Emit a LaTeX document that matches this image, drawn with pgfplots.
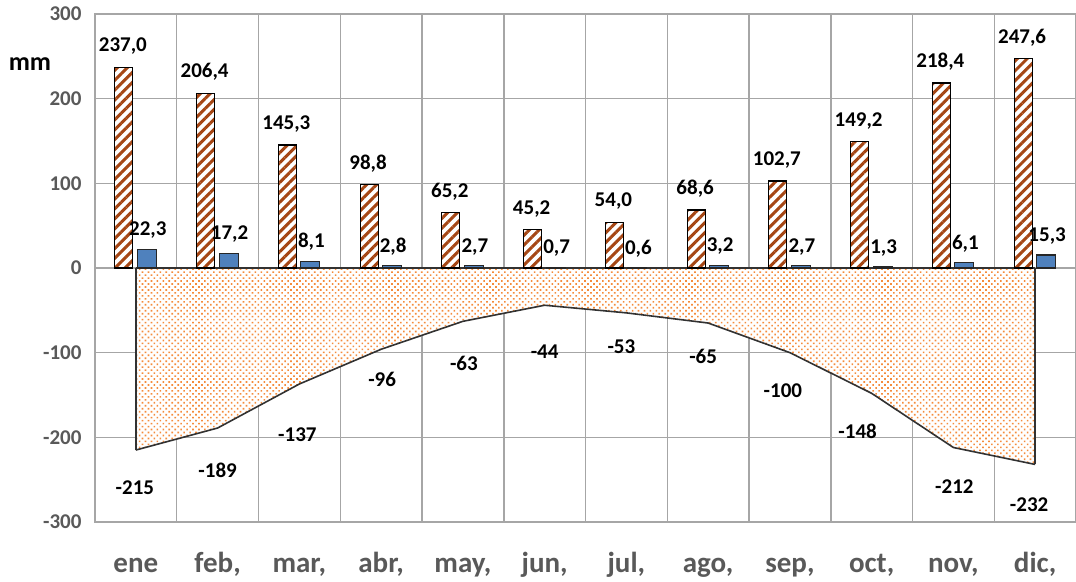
\documentclass[border=0pt]{standalone}
\usepackage{pgfplots}
\pgfplotsset{compat=1.18}
\usepackage{pgfplotstable}
\usepackage{fontspec}
\setmainfont{Carlito}
\usetikzlibrary{patterns.meta}

\definecolor{hatchbrown}{RGB}{165,70,20}
\definecolor{barblue}{RGB}{79,129,189}
\definecolor{dotorange}{RGB}{245,140,60}
\definecolor{gridgray}{RGB}{166,166,166}
\definecolor{labelgray}{RGB}{89,89,89}
\definecolor{linegray}{RGB}{50,50,50}

% m = month index, p = hatched series, e = blue series
\pgfplotstableread{
m  p      e
0  237.0  22.3
1  206.4  17.2
2  145.3  8.1
3  98.8   2.8
4  65.2   2.7
5  45.2   0.7
6  54.0   0.6
7  68.6   3.2
8  102.7  2.7
9  149.2  1.3
10 218.4  6.1
11 247.6  15.3
}\lluvia

% d = negative series, dx/dy = label offsets (pt)
\pgfplotstableread{
m   d     dx   dy
0   -215  -1   -38
1   -189   0   -42
2   -137  -2   -51
3   -96    1   -30
4   -63    1   -42
5   -44    0   -46
6   -53   -5   -34
7   -65   -5   -33
8   -100  -7   -38
9   -148  -14  -38
10  -212   1   -39
11  -232  -6   -40
}\deficit

\begin{document}
\begin{tikzpicture}
\useasboundingbox (-95pt,-59pt) rectangle (981pt,522pt);
\begin{axis}[
    at={(0pt,0pt)}, anchor=south west,
    scale only axis,
    width=981pt, height=508pt,
    xmin=-0.5, xmax=11.5,
    ymin=-300, ymax=300,
    clip=false,
    xtick={0,...,11},
    xticklabels={ene,{feb,},{mar,},{abr,},{may,},{jun,},{jul,},{ago,},{sep,},{oct,},{nov,},{dic,}},
    minor xtick={0.5,1.5,...,10.5},
    ytick={-300,-200,...,300},
    xminorgrids=true, ymajorgrids=true,
    major tick length=0pt, minor tick length=0pt,
    grid style={gridgray, line width=1.5pt},
    minor grid style={gridgray, line width=1.5pt},
    axis line style={gridgray, line width=1.5pt},
    /pgf/number format/assume math mode=true,
    xticklabel style={font=\fontsize{29}{29}\selectfont\bfseries, text=labelgray, anchor=base, yshift=-50pt},
    yticklabel style={font=\fontsize{21}{21}\selectfont\bfseries, text=labelgray, xshift=-10pt},
    ylabel={mm},
    ylabel style={at={(axis description cs:-0.0663,0.9016)}, anchor=center, rotate=-90,
        font=\fontsize{26}{26}\selectfont\bfseries},
    nodes near coords style={font=\fontsize{21}{21}\selectfont\bfseries, text=black},
]

% area below zero: fill
\addplot[draw=none, fill=white,
    postaction={pattern={Dots[angle=45, distance=4.2pt, radius=1.15pt]}, pattern color=dotorange}]
    table[x=m, y=d]{\deficit} \closedcycle;
% area outline: curve, side edges and zero edge
\addplot[draw=linegray, line width=1.6pt] table[x=m, y=d]{\deficit};
\addplot[ycomb, draw=linegray, line width=1.6pt, mark=none, skip coords between index={1}{11}]
    table[x=m, y=d]{\deficit};
\addplot[draw=linegray, line width=1.6pt] table[x=m, y expr=0]{\deficit};

% hatched bars
\addplot[ybar, bar width=18pt, bar shift=-12pt, draw=black, line width=1.2pt, fill=white,
    postaction={pattern={Lines[angle=45, distance=7pt, line width=3pt]}, pattern color=hatchbrown},
    nodes near coords={\pgfmathprintnumber[fixed,fixed zerofill,precision=1,use comma]{\pgfplotspointmeta}},
    every node near coord/.append style={anchor=center, xshift=-13pt, yshift=21pt}]
    table[x=m, y=p]{\lluvia};

% blue bars
\addplot[ybar, bar width=19pt, bar shift=11pt, draw=black!85, line width=1.2pt, fill=barblue,
    nodes near coords={\pgfmathprintnumber[fixed,fixed zerofill,precision=1,use comma]{\pgfplotspointmeta}},
    every node near coord/.append style={anchor=center, xshift=12pt, yshift=19pt}]
    table[x=m, y=e]{\lluvia};

% labels of the negative series (offsets converted from pt to axis units)
\addplot[draw=none, mark=none, nodes near coords, point meta=explicit symbolic,
    every node near coord/.append style={anchor=center}]
    table[x expr=\thisrow{m}+\thisrow{dx}/81.75, y expr=\thisrow{d}+\thisrow{dy}/0.8467, meta=d]{\deficit};

\end{axis}
\end{tikzpicture}
\end{document}
